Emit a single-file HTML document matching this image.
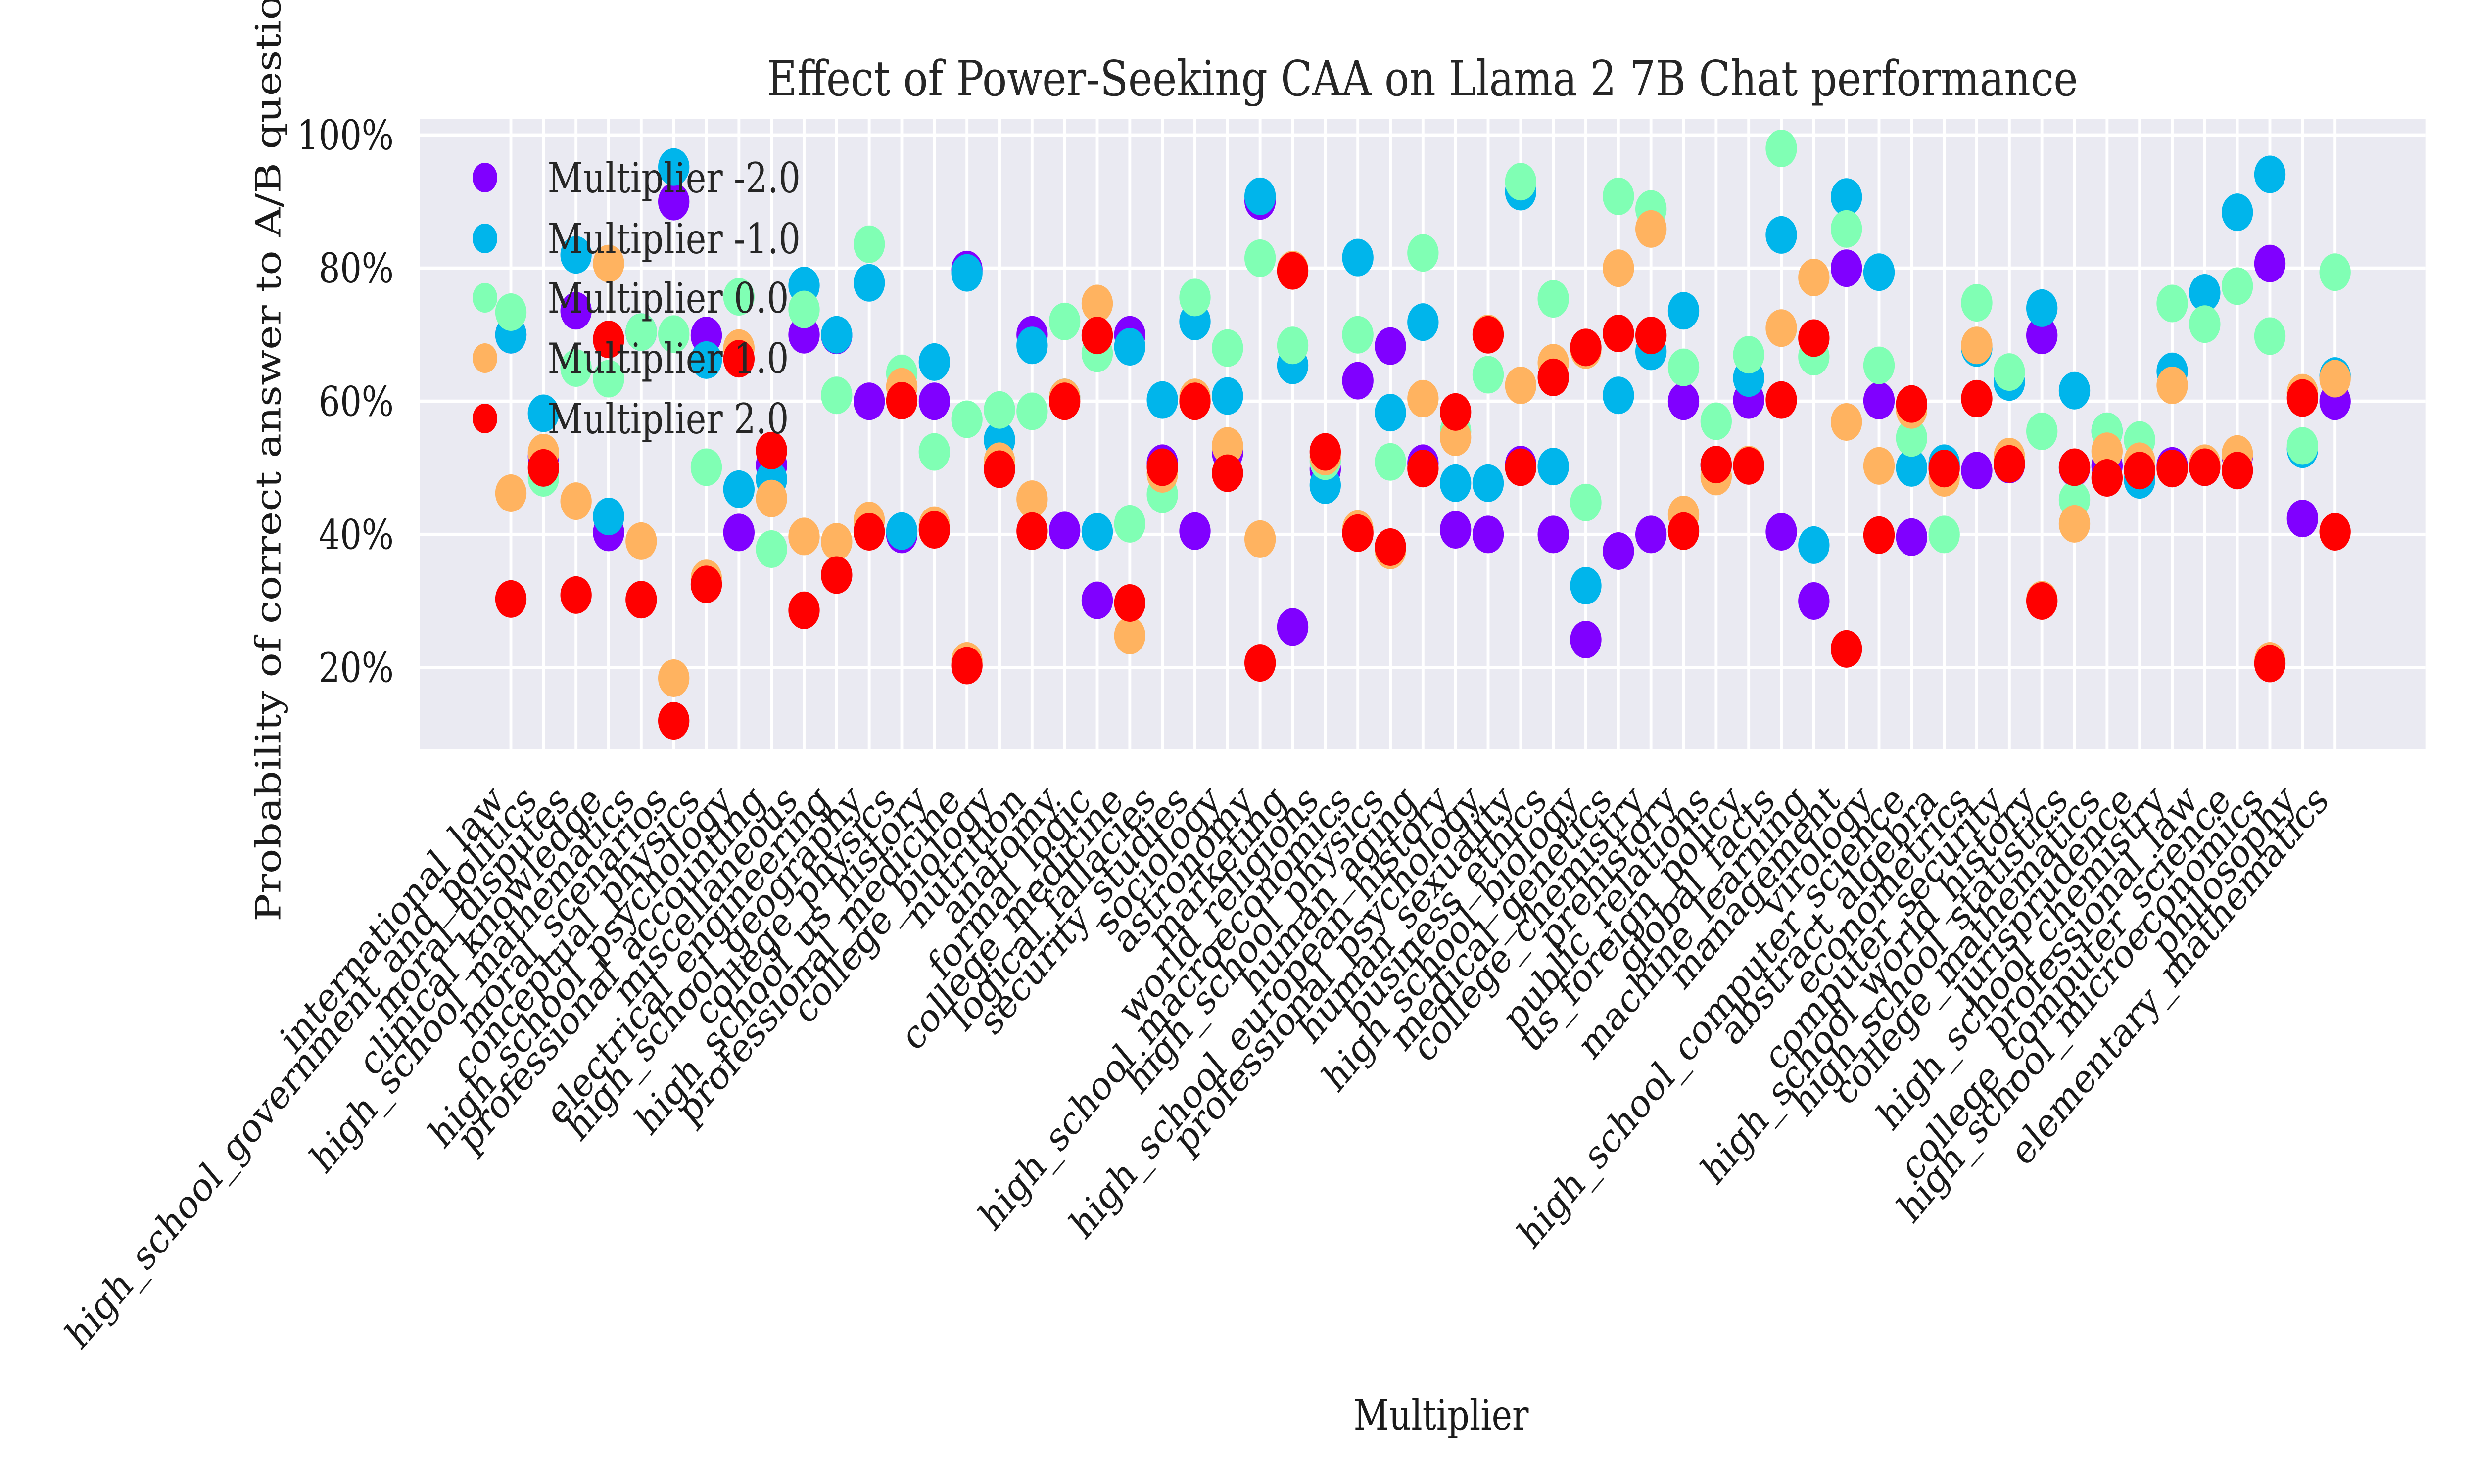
<!DOCTYPE html>
<html><head><meta charset="utf-8"><style>
html,body{margin:0;padding:0;background:#fff;overflow:hidden;width:100vw;height:100vh;}
svg{display:block;width:100vw;height:100vh;}
text{font-family:"DejaVu Serif","Liberation Serif",serif;}
</style></head>
<body>
<svg id="chart" xmlns="http://www.w3.org/2000/svg" viewBox="0 0 6000 3000" preserveAspectRatio="none">
<rect x="0" y="0" width="6000" height="3000" fill="#ffffff"/>
<rect x="1018" y="241" width="4864" height="1274" fill="#eaeaf2"/>
<g id="grid"></g>
<g id="marks"></g>
<g id="yticks"></g>
<g id="xticks"></g>
<text x="3450" y="193" font-size="98" fill="#262626" text-anchor="middle" textLength="3179" lengthAdjust="spacingAndGlyphs">Effect of Power-Seeking CAA on Llama 2 7B Chat performance</text>
<text x="3495" y="2890" font-size="84" fill="#1a1a1a" text-anchor="middle">Multiplier</text>
<text transform="translate(680,878) rotate(-90)" font-size="84" fill="#1a1a1a" text-anchor="middle">Probability of correct answer to A/B questions</text>
<g id="legend"></g>
</svg>
<script>
const categories = ["international_law","high_school_government_and_politics","moral_disputes","clinical_knowledge","high_school_mathematics","moral_scenarios","conceptual_physics","high_school_psychology","professional_accounting","miscellaneous","electrical_engineering","high_school_geography","college_physics","high_school_us_history","professional_medicine","college_biology","nutrition","anatomy","formal_logic","college_medicine","logical_fallacies","security_studies","sociology","astronomy","marketing","world_religions","high_school_macroeconomics","high_school_physics","human_aging","high_school_european_history","professional_psychology","human_sexuality","business_ethics","high_school_biology","medical_genetics","college_chemistry","prehistory","public_relations","us_foreign_policy","global_facts","machine_learning","management","virology","high_school_computer_science","abstract_algebra","econometrics","computer_security","high_school_world_history","high_school_statistics","college_mathematics","jurisprudence","high_school_chemistry","professional_law","college_computer_science","high_school_microeconomics","philosophy","elementary_mathematics"];
const seriesLabels = ["Multiplier -2.0","Multiplier -1.0","Multiplier 0.0","Multiplier 1.0","Multiplier 2.0"];
const valuesM2 = [70,51.7,73.6,40.3,70.4,90.0,69.9,40.3,50.4,70.0,69.9,60.0,40.0,60.0,79.8,50.4,70.0,40.6,30.1,70.0,50.7,40.5,52.3,90.1,26.1,49.8,63.1,68.3,50.7,40.7,40.0,50.5,40.0,24.2,37.5,40.0,60.0,50.4,60.2,40.4,30.0,80.0,60.1,39.6,50.4,49.6,50.5,69.9,50.0,50.3,49.8,50.3,50.1,51.8,80.7,42.4,60.0];
const valuesM1 = [70,58.2,82.0,42.7,70.4,95.2,66.2,46.8,48.3,77.4,70.0,77.8,40.5,65.9,79.3,54.2,68.4,60.6,40.4,68.2,60.2,72.0,60.8,90.8,65.4,47.4,81.6,58.3,71.9,47.7,47.7,91.5,50.2,32.3,60.9,67.5,73.6,50.4,63.5,85.0,38.4,90.7,79.4,50.0,50.7,68.0,62.9,74.0,61.6,55.5,48.2,64.5,76.3,88.4,94.1,52.8,63.8];
const valuesZ0 = [73.4,48.5,65.0,63.4,70.4,70.1,50.1,75.7,37.8,73.8,60.9,83.6,64.2,52.4,57.3,58.7,58.5,72.0,67.2,41.6,46.0,75.6,68.0,81.5,68.4,51.0,70.0,50.9,82.3,55.5,64.0,93.0,75.4,44.8,90.8,88.9,65.1,57.0,67.0,98.0,66.7,85.9,65.4,54.5,40.0,74.8,64.4,55.5,45.2,55.5,54.2,74.7,71.6,77.3,69.8,53.3,79.4];
const valuesP1 = [46.2,52.3,45.0,80.7,39.0,18.4,33.4,68.0,45.4,39.7,38.9,42.1,62.2,41.4,21.0,51.0,45.3,60.6,74.7,24.8,49.1,60.6,53.3,39.3,79.8,51.7,40.8,37.6,60.4,54.6,70.2,62.4,65.8,67.7,80.0,85.9,43.0,48.7,50.5,71.0,78.6,56.9,50.3,58.7,48.5,68.4,51.7,30.2,41.6,52.5,51.0,62.4,50.7,52.1,21.0,61.3,63.4];
const valuesP2 = [30.3,50.0,30.9,69.3,30.2,12.0,32.5,66.4,52.6,28.6,33.9,40.4,60.1,40.7,20.3,49.8,40.5,60.0,69.9,29.7,50.1,60.0,49.2,20.7,79.6,52.4,40.2,38.1,49.9,58.4,70.0,50.1,63.6,68.1,70.2,69.9,40.5,50.5,50.3,60.2,69.5,22.8,39.9,59.6,49.9,60.4,50.6,30.0,50.1,48.5,49.6,49.9,50.1,49.6,20.6,60.5,40.4];
const yTicks = [20,40,60,80,100];

const NS = "http://www.w3.org/2000/svg";
const colors = ["#8000ff","#00b5eb","#80ffb4","#ffb360","#ff0000"];
const allSeries = [valuesM2, valuesM1, valuesZ0, valuesP1, valuesP2];
const seriesNames = ["series-m2","series-m1","series-0","series-p1","series-p2"];
function xScale(i){ return 1239 + 79 * i; }
function yScale(v){ return 1618.6 - v * 13.455; }
function mk(tag, attrs){ const e = document.createElementNS(NS, tag); for (const k in attrs) e.setAttribute(k, attrs[k]); return e; }

const grid = document.getElementById('grid');
categories.forEach((c, i) => {
  const l = mk('line', {x1: xScale(i), x2: xScale(i), y1: 241, y2: 1515, stroke: '#ffffff', 'stroke-width': 7});
  
  
  grid.appendChild(l);
});
yTicks.forEach(t => {
  const l = mk('line', {x1: 1018, x2: 5882, y1: yScale(t), y2: yScale(t), stroke: '#ffffff', 'stroke-width': 7});
  
  
  grid.appendChild(l);
});

const marks = document.getElementById('marks');
allSeries.forEach((vals, s) => {
  const g = mk('g', {fill: colors[s]});
  
  
  vals.forEach((v, i) => {
    const c = mk('circle', {cx: xScale(i), cy: yScale(v), r: 38});
    
    
    g.appendChild(c);
  });
  marks.appendChild(g);
});

const yt = document.getElementById('yticks');
yTicks.forEach(t => {
  const tx = mk('text', {x: 955, y: yScale(t) + 29, 'font-size': 82, fill: '#1a1a1a', 'text-anchor': 'end'});
  tx.textContent = t + '%';
  
  
  yt.appendChild(tx);
});

const xt = document.getElementById('xticks');
categories.forEach((c, i) => {
  const ax = xScale(i) - 12, ay = 1622;
  const tx = mk('text', {transform: 'translate(' + ax + ',' + ay + ') rotate(-45)', 'font-size': 82, fill: '#1a1a1a', 'text-anchor': 'end'});
  tx.textContent = c;
  
  
  xt.appendChild(tx);
});

const lg = document.getElementById('legend');
const legendRows = [359, 482, 602, 724, 846];
seriesLabels.forEach((lab, s) => {
  const g = mk('g', {});
  
  
  const c = mk('circle', {cx: 1176, cy: legendRows[s], r: 30, fill: colors[s]});
  
  
  const t = mk('text', {x: 1328, y: legendRows[s] + 30, 'font-size': 84, fill: '#262626'});
  t.textContent = lab;
  
  
  g.appendChild(c); g.appendChild(t);
  lg.appendChild(g);
});
</script>
</body></html>
